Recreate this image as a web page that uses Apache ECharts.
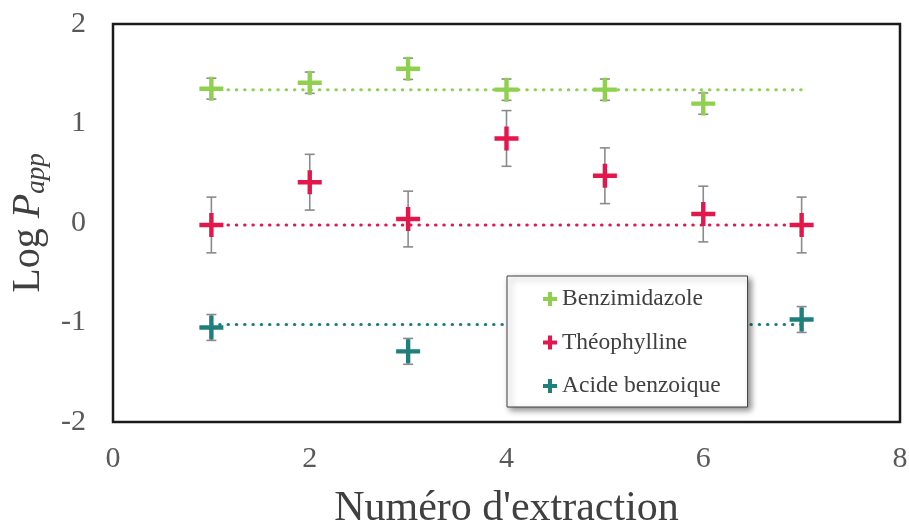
<!DOCTYPE html>
<html>
<head>
<meta charset="utf-8">
<script src="https://cdn.jsdelivr.net/npm/echarts@6/dist/echarts.min.js"></script>
<style>
  html, body { margin: 0; padding: 0; background: #fff; }
  #chart { width: 909px; height: 528px; }
</style>
</head>
<body>
<div id="chart"></div>
<script>
// Données
const benzX = [1, 2, 3, 4, 5, 6];
const benzY = [1.35, 1.41, 1.55, 1.34, 1.34, 1.20];
const benzErr = [0.105, 0.107, 0.107, 0.107, 0.107, 0.107];
const benzMean = 1.34;

const theoX = [1, 2, 3, 4, 5, 6, 7];
const theoY = [-0.02, 0.41, 0.04, 0.85, 0.475, 0.09, -0.02];
const theoErr = [0.28, 0.28, 0.28, 0.28, 0.28, 0.28, 0.28];
const theoMean = -0.02;

const acidX = [1, 3, 7];
const acidY = [-1.05, -1.29, -0.97];
const acidErr = [0.13, 0.13, 0.13];
const acidMean = -1.02;

const lineX = [1, 7];

const GREEN = '#8fd14f';
const RED = '#e3174b';
const TEAL = '#1f807b';
const CROSS = 'path://M9.8,0H14.2V9.8H24V14.2H14.2V24H9.8V14.2H0V9.8H9.8Z';
const CROSS_ICON = 'path://M8.5,0H15.5V8.5H24V15.5H15.5V24H8.5V15.5H0V8.5H8.5Z';
const FONT = '"Liberation Serif", "DejaVu Serif", serif';

const zip = (xs, ys) => xs.map((x, i) => [x, ys[i]]);
const errData = (xs, ys, es) => xs.map((x, i) => [x, ys[i] - es[i], ys[i] + es[i]]);

// barres d'erreur dessinées via les coordonnées de l'axe
function renderErr(params, api) {
  const lo = api.coord([api.value(0), api.value(1)]);
  const hi = api.coord([api.value(0), api.value(2)]);
  const w = 5;
  const style = { stroke: '#8a8a8a', lineWidth: 1.6 };
  return {
    type: 'group',
    children: [
      { type: 'line', shape: { x1: lo[0], y1: lo[1], x2: hi[0], y2: hi[1] }, style },
      { type: 'line', shape: { x1: lo[0] - w, y1: lo[1], x2: lo[0] + w, y2: lo[1] }, style },
      { type: 'line', shape: { x1: hi[0] - w, y1: hi[1], x2: hi[0] + w, y2: hi[1] }, style }
    ]
  };
}

function meanLine(name, color, value) {
  return {
    name: name + ' moyenne',
    type: 'line',
    data: lineX.map(x => [x, value]),
    symbol: 'none',
    silent: true,
    z: 1,
    lineStyle: { color: color, width: 3, type: [0.5, 7.8], cap: 'round' }
  };
}

function errSeries(name, xs, ys, es) {
  return {
    name: name + ' erreur',
    type: 'custom',
    renderItem: renderErr,
    data: errData(xs, ys, es),
    z: 2,
    silent: true
  };
}

function points(name, color, xs, ys) {
  return {
    name: name,
    type: 'scatter',
    data: zip(xs, ys),
    symbol: CROSS,
    symbolSize: 24,
    itemStyle: { color: color, opacity: 1 },
    z: 3
  };
}

const chart = echarts.init(document.getElementById('chart'));
chart.setOption({
  animation: false,
  textStyle: { fontFamily: FONT },
  grid: {
    left: 113, right: 9, top: 24, bottom: 106,
    outerBoundsMode: 'none',
    containLabel: false,
    show: true, borderColor: '#1a1a1a', borderWidth: 2.5
  },
  xAxis: {
    type: 'value', min: 0, max: 8, interval: 2,
    axisLine: { show: false }, axisTick: { show: false }, splitLine: { show: false },
    axisLabel: { fontSize: 30, color: '#595959', fontFamily: FONT, margin: 22 },
    name: "Numéro d'extraction",
    nameLocation: 'middle', nameGap: 66,
    nameTextStyle: { fontSize: 42, color: '#404040', fontFamily: FONT }
  },
  yAxis: {
    type: 'value', min: -2, max: 2, interval: 1,
    axisLine: { show: false }, axisTick: { show: false }, splitLine: { show: false },
    axisLabel: { fontSize: 30, color: '#595959', fontFamily: FONT, margin: 27 },
    name: 'Log {i|P}{s|app}',
    nameLocation: 'middle', nameGap: 58,
    nameTextStyle: {
      fontSize: 40, color: '#404040', fontFamily: FONT,
      rich: {
        i: { fontSize: 40, fontStyle: 'italic', color: '#404040', fontFamily: FONT },
        s: { fontSize: 27, fontStyle: 'italic', color: '#404040', fontFamily: FONT,
             verticalAlign: 'bottom', padding: [16, 0, 0, 0] }
      }
    }
  },
  legend: {
    orient: 'vertical',
    left: 507, top: 276,
    padding: [10, 27, 8, 36],
    itemGap: 17.5,
    itemWidth: 14, itemHeight: 14,
    backgroundColor: '#fff',
    borderColor: '#404040', borderWidth: 1,
    shadowBlur: 6, shadowOffsetX: 3, shadowOffsetY: 3, shadowColor: 'rgba(0,0,0,0.45)',
    textStyle: { fontSize: 23.5, color: '#404040', fontFamily: FONT, lineHeight: 26 },
    data: [
      { name: 'Benzimidazole', icon: CROSS_ICON },
      { name: 'Théophylline', icon: CROSS_ICON },
      { name: 'Acide benzoique', icon: CROSS_ICON }
    ]
  },
  series: [
    meanLine('Benzimidazole', GREEN, benzMean),
    meanLine('Théophylline', RED, theoMean),
    meanLine('Acide benzoique', TEAL, acidMean),
    errSeries('Benzimidazole', benzX, benzY, benzErr),
    errSeries('Théophylline', theoX, theoY, theoErr),
    errSeries('Acide benzoique', acidX, acidY, acidErr),
    points('Benzimidazole', GREEN, benzX, benzY),
    points('Théophylline', RED, theoX, theoY),
    points('Acide benzoique', TEAL, acidX, acidY)
  ]
});
</script>
</body>
</html>
